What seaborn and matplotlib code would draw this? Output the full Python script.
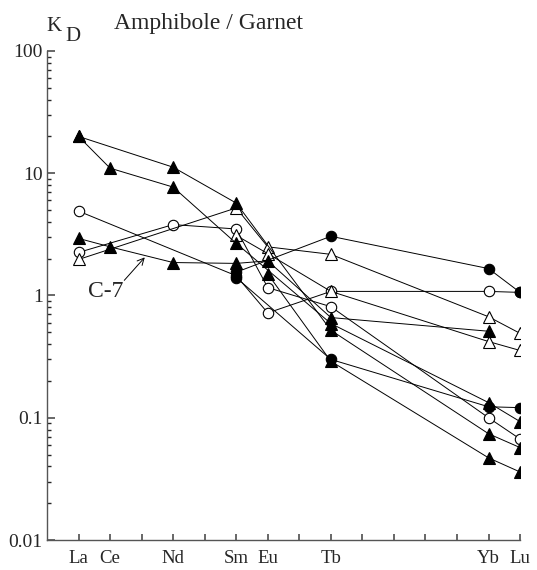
import numpy as np
import pandas as pd
import matplotlib
matplotlib.use("Agg")
import matplotlib.pyplot as plt
import seaborn as sns

# REE positions on the x axis (atomic number)
elements = ['La', 'Ce', 'Nd', 'Sm', 'Eu', 'Tb', 'Yb', 'Lu']
atomic_no = [57, 58, 60, 62, 63, 65, 70, 71]
nan = np.nan

# Amphibole / garnet partition coefficients, one list per sample
tri_a = [20.0, nan, 11.2, 5.7, nan, 0.52, 0.074, 0.057]
tri_b = [20.0, 11.0, 7.7, 2.67, nan, 0.59, 0.133, 0.093]
tri_c7 = [2.93, 2.5, 1.86, 1.83, 1.92, 0.66, 0.51, nan]
tri_d = [nan, nan, nan, nan, 1.5, 0.29, 0.047, 0.036]
otri_a = [1.97, nan, nan, 5.2, 2.5, 2.17, 0.67, 0.49]
otri_b = [nan, nan, nan, 3.1, 2.2, 1.08, 0.42, 0.355]
circ_a = [2.25, nan, 3.8, 3.5, 1.16, 0.81, 0.10, 0.067]
circ_b = [4.9, nan, nan, 1.45, 0.72, 1.08, 1.08, 1.06]
dot_a = [nan, nan, nan, 1.55, nan, 3.05, 1.66, 1.06]
dot_b = [nan, nan, nan, 1.4, nan, 0.30, 0.123, 0.121]

# (values, marker, filled)
samples = [
    (circ_a, 'o', False), (circ_b, 'o', False),
    (otri_a, '^', False), (otri_b, '^', False),
    (tri_a, '^', True), (tri_b, '^', True), (tri_c7, '^', True), (tri_d, '^', True),
    (dot_a, 'o', True), (dot_b, 'o', True),
]

sns.set_theme(style="ticks")
plt.rcParams['font.family'] = ['Liberation Serif', 'DejaVu Serif']

fig = plt.figure(figsize=(5.37, 5.70), dpi=100)
ax = fig.add_axes([0.0875, 0.0526, 0.881, 0.858])

for i, (vals, mk, filled) in enumerate(samples):
    df = pd.DataFrame({'z': atomic_no, 'kd': vals}).dropna()
    sns.lineplot(data=df, x='z', y='kd', ax=ax, color='black', lw=0.7,
                 marker=mk, markersize=8 if mk == '^' else 7.5,
                 markerfacecolor='black' if filled else 'white',
                 markeredgecolor='black', markeredgewidth=0.8,
                 zorder=3 + i, sort=False)

ax.set_yscale('log')
ax.set_ylim(0.01, 100)
ax.set_xlim(56, 71)
ax.set_yticks([0.01, 0.1, 1, 10, 100])
ax.set_yticklabels(['0.01', '0.1', '1', '10', '100'])
ax.set_xticks(range(57, 72))
lab = {z: e for z, e in zip(atomic_no, elements)}
ax.set_xticklabels([lab.get(z, '') for z in range(57, 72)])
ax.tick_params(axis='both', direction='in', labelsize=14, color='#555555')
ax.tick_params(axis='x', length=4, pad=7, labelsize=13.5)
ax.tick_params(axis='y', which='major', length=6, pad=3)
ax.tick_params(axis='y', which='minor', length=3, direction='in')
ax.set_xlabel('')
ax.set_ylabel('')
sns.despine(ax=ax)
for s in ['left', 'bottom']:
    ax.spines[s].set_color('#555555')
    ax.spines[s].set_linewidth(1.0)

fig.text(0.087, 0.945, 'K', fontsize=15, ha='left', va='baseline')
fig.text(0.121, 0.928, 'D', fontsize=15, ha='left', va='baseline')
fig.text(0.213, 0.950, 'Amphibole / Garnet', fontsize=17, ha='left', va='baseline')

ax.text(57.85, 1.08, 'C-7', fontsize=17, ha='center', va='center')
ax.annotate('', xy=(59.1, 2.05), xytext=(58.45, 1.33),
            arrowprops=dict(arrowstyle='->', color='black', lw=0.7,
                            shrinkA=0, shrinkB=0))

fig.savefig('out.png', dpi=100)
